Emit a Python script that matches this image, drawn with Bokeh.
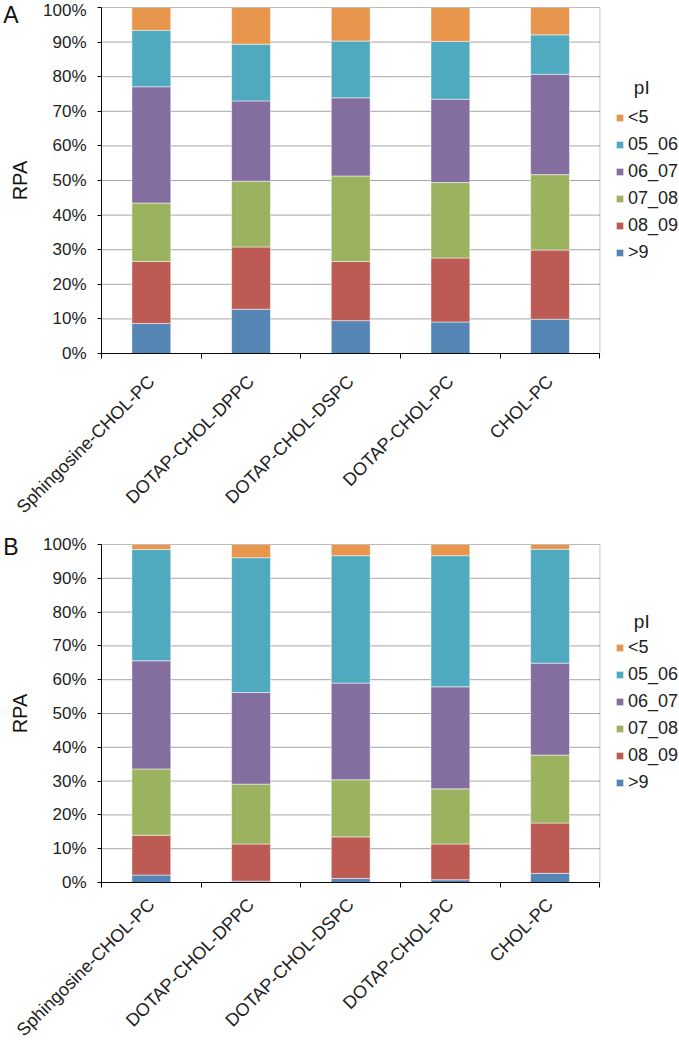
import math
from bokeh.plotting import figure
from bokeh.models import (ColumnDataSource, Range1d, FixedTicker, PrintfTickFormatter,
                          CustomJSTickFormatter, Legend, LegendItem, LinearAxis,
                          BoxAnnotation, Label)
from bokeh.layouts import column
from bokeh.embed import file_html
from bokeh.resources import INLINE

categories = ["Sphingosine-CHOL-PC", "DOTAP-CHOL-DPPC", "DOTAP-CHOL-DSPC",
              "DOTAP-CHOL-PC", "CHOL-PC"]
# stack order bottom -> top
groups = [">9", "08_09", "07_08", "06_07", "05_06", "<5"]
keys = ["gt9", "p08_09", "p07_08", "p06_07", "p05_06", "lt5"]
colors = ["#5585B5", "#BC5B54", "#9BB25E", "#846EA0", "#4FA9BF", "#E8964D"]
y_ticks = [0, 10, 20, 30, 40, 50, 60, 70, 80, 90, 100]

# Panel A (%)
a_gt9 = [8.7, 12.8, 9.5, 9.1, 9.9]
a_08_09 = [17.9, 18.0, 17.1, 18.5, 20.0]
a_07_08 = [16.9, 19.0, 24.7, 21.8, 21.8]
a_06_07 = [33.6, 23.2, 22.6, 24.1, 29.0]
a_05_06 = [16.3, 16.4, 16.4, 16.7, 11.4]
a_lt5 = [6.6, 10.6, 9.7, 9.8, 7.9]

# Panel B (%)
b_gt9 = [2.2, 0.4, 1.2, 0.8, 2.7]
b_08_09 = [11.8, 11.0, 12.3, 10.6, 14.9]
b_07_08 = [19.6, 17.7, 16.9, 16.3, 20.1]
b_06_07 = [32.0, 27.1, 28.6, 30.2, 27.2]
b_05_06 = [32.9, 39.9, 37.7, 38.8, 33.7]
b_lt5 = [1.5, 3.9, 3.3, 3.3, 1.4]

FONT = "Liberation Sans"
N = len(categories)
X_END = N * 581 / 501   # frame is widened to the right to hold the legend


def make_chart(letter, series, height, btop, bbottom, frame_h, letter_y, title_y,
               xlabel_standoff):
    positions = [i + 0.5 for i in range(N)]
    data = {"x": positions}
    for k, s in zip(keys, series):
        data[k] = s
    src = ColumnDataSource(data)

    p = figure(width=679, height=height, output_backend="svg", toolbar_location=None,
               x_range=Range1d(0, X_END), y_range=Range1d(0, 100),
               min_border_left=98, min_border_right=0,
               min_border_top=btop, min_border_bottom=bbottom)
    p.background_fill_color = "white"
    p.border_fill_color = "white"
    p.outline_line_color = None

    # horizontal gridlines limited to the plot area (0..N)
    p.xgrid.visible = False
    p.ygrid.visible = False
    p.segment(x0=0, x1=N, y0=y_ticks, y1=y_ticks, line_color="#A6A6A6", line_width=1)

    rs = p.vbar_stack(keys, x="x", width=0.39, source=src, color=colors,
                      line_color="white", line_width=0.5)

    # plot-area border
    p.add_layout(BoxAnnotation(left=0, right=N, bottom=0, top=100, fill_alpha=0,
                               line_color="#404040", line_width=1))

    # main y axis
    ya = p.yaxis[0]
    ya.ticker = FixedTicker(ticks=y_ticks, minor_ticks=[])
    ya.formatter = PrintfTickFormatter(format="%d%%")
    ya.axis_label = "RPA"
    ya.axis_label_text_font = FONT
    ya.axis_label_text_font_size = "20px"
    ya.axis_label_text_font_style = "normal"
    ya.axis_label_text_color = "#111111"
    ya.axis_label_standoff = 9
    ya.major_label_text_font = FONT
    ya.major_label_text_font_size = "17px"
    ya.major_label_text_color = "#222222"
    ya.major_label_standoff = 11
    ya.major_tick_out = 4
    ya.major_tick_in = 0
    ya.axis_line_color = "black"
    ya.major_tick_line_color = "black"

    # panel letter (A / B) as the single label of an outer, line-less axis
    la = LinearAxis(ticker=FixedTicker(ticks=[letter_y], minor_ticks=[]),
                    formatter=CustomJSTickFormatter(args=dict(t=letter), code="return t;"),
                    axis_line_color=None, major_tick_line_color=None,
                    minor_tick_line_color=None, major_tick_out=0, major_tick_in=0,
                    major_label_standoff=-12, major_label_text_font=FONT,
                    major_label_text_font_size="23px", major_label_text_color="#111111")
    p.add_layout(la, "left")

    # x axis: labels at centres, ticks at category boundaries
    xa = p.xaxis[0]
    xa.bounds = (0, N)
    xa.ticker = FixedTicker(ticks=positions, minor_ticks=list(range(N + 1)))
    xa.formatter = CustomJSTickFormatter(args=dict(labels=categories),
                                         code="return labels[Math.floor(tick)];")
    xa.major_label_orientation = math.pi / 4
    xa.major_label_text_font = FONT
    xa.major_label_text_font_size = "18px"
    xa.major_label_text_color = "#222222"
    xa.major_label_standoff = xlabel_standoff
    xa.major_tick_line_color = None
    xa.major_tick_out = 0
    xa.major_tick_in = 0
    xa.minor_tick_line_color = "black"
    xa.minor_tick_out = 5
    xa.minor_tick_in = 0
    xa.axis_line_color = "black"

    items = [LegendItem(label=g, renderers=[r]) for g, r in zip(groups, rs)][::-1]
    legend = Legend(items=items, location=(514, frame_h - 256), orientation="vertical",
                    background_fill_alpha=0, border_line_color=None,
                    padding=0, margin=0, spacing=6,
                    glyph_width=9, glyph_height=9, label_height=20,
                    label_standoff=4,
                    label_text_font=FONT, label_text_font_size="18px",
                    label_text_color="#222222")
    p.add_layout(legend)
    p.add_layout(Label(x=5.42, y=title_y, text="pI", text_align="center",
                       text_baseline="middle", text_font=FONT,
                       text_font_size="19px", text_color="#222222"))
    return p


pa = make_chart("A", [a_gt9, a_08_09, a_07_08, a_06_07, a_05_06, a_lt5],
                530, 7, 177, 346, 98.6, 76.9, 20)
pb = make_chart("B", [b_gt9, b_08_09, b_07_08, b_06_07, b_05_06, b_lt5],
                520, 14, 161, 345, 99.3, 77.1, 14)

layout = column(pa, pb, spacing=0)
open("out.html", "w").write(file_html(layout, INLINE))
